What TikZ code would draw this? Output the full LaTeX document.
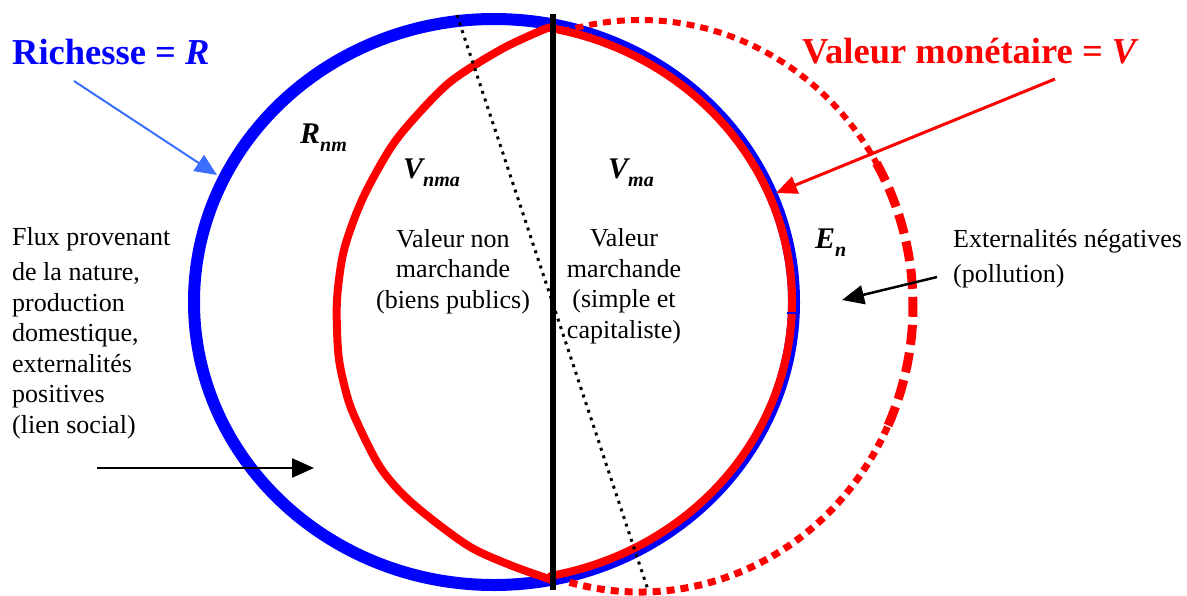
\documentclass[tikz,border=0pt]{standalone}
\usepackage{fontspec}
\setmainfont{Liberation Serif}
\usetikzlibrary{arrows.meta}
\definecolor{pblue}{RGB}{0,0,255}
\definecolor{pred}{RGB}{255,0,0}
\definecolor{arrblue}{RGB}{60,110,255}
\newcommand{\setfs}[2]{\fontsize{#1}{#2}\selectfont}
\newcommand{\subtxt}[1]{\raisebox{-8pt}{\setfs{20}{20}\bfseries\itshape #1}}
\begin{document}
\begin{tikzpicture}[x=1pt,y=-1pt,
  body/.style={inner sep=0pt, anchor=base, font=\setfs{26}{30.5}, align=center},
  sym/.style={inner sep=0pt, anchor=base west, font=\setfs{30}{30}\bfseries\itshape},
  title/.style={inner sep=0pt, anchor=base west, font=\setfs{36.5}{40}\bfseries},
  richring/.style={pblue, line width=12pt},
  valring/.style={pred, line width=8pt, line join=round, line cap=round},
  extring/.style={pred, dash pattern=on 8pt off 6pt},
  blackarrow/.style={black, line width=2.5pt, -{Triangle[length=22pt,width=19pt]}}
]
\useasboundingbox (0,0) rectangle (1187,595);

% Richesse circle
\draw[richring] (494,302) ellipse [x radius=300pt, y radius=283pt];

% Negative externalities dashed circle
\draw[extring, line width=6pt] ([shift={(106.6:273pt and 286pt)}]640,306) arc[start angle=106.6, end angle=30, x radius=273pt, y radius=286pt];
\draw[extring, line width=9pt, dash pattern=on 20pt off 8pt] ([shift={(30:273pt and 286pt)}]640,306) arc[start angle=30, end angle=-25, x radius=273pt, y radius=286pt];
\draw[extring, line width=7pt] ([shift={(-25:273pt and 286pt)}]640,306) arc[start angle=-25, end angle=-105, x radius=273pt, y radius=286pt];

% Valeur monetaire shape
\draw[valring] ([shift={(79:298pt and 279pt)}]494,302) arc[start angle=79, end angle=-79, x radius=298pt, y radius=279pt];
\draw[valring] plot[smooth, tension=0.5] coordinates {(552,27) (540,31) (500,50) (450,82) (410,123) (388,152) (362,200) (344,250) (337,300) (338,350) (343,380) (353,413) (380,467) (412,503) (467,545) (510,565) (552,580)};

% small blue tick
\draw[pblue, line width=1.5pt] (787,313) -- (798,313);

% dotted line
\draw[black, line width=3pt, dash pattern=on 3pt off 5pt] (457,15) -- (648,590);

% vertical line
\draw[black, line width=6pt] (553,14) -- (553,590);

% titles
\node[title, text=pblue] (rich) at (12,64) {Richesse = \textit{R}};
\node[title, text=pred] (val) at (802,63) {Valeur monétaire = \textit{V}};

% symbols
\node[sym] (rnm) at (300,143) {R\subtxt{nm}};
\node[sym] (vnma) at (403,178) {V\subtxt{nma}};
\node[sym] (vma) at (608,178) {V\subtxt{ma}};
\node[sym] (en) at (815,248) {E\subtxt{n}};

% body texts (anchored at baseline of last line)
\node[body] (nonmarch) at (453,308) {Valeur non\\marchande\\(biens publics)};
\node[body] (march) at (624,338) {Valeur\\marchande\\(simple et\\capitaliste)};
\node[body, anchor=base west, align=left] (flux) at (12,433) {Flux provenant\\[5pt]de la nature,\\production\\domestique,\\externalités\\positives\\(lien social)};
\node[body, anchor=base west, align=left] (extneg) at (953,282) {Externalités négatives\\[4pt](pollution)};

% arrows
\coordinate (richtail) at (74,81);
\coordinate (richtip) at (217,175);
\draw[arrblue, line width=2pt, -{Triangle[length=22pt,width=19pt]}] (richtail) -- (richtip);
\coordinate (valtail) at (1055,79);
\coordinate (valtip) at (776,193);
\draw[pred, line width=3pt, -{Triangle[length=21pt,width=18pt]}] (valtail) -- (valtip);
\coordinate (exttail) at (937,277);
\coordinate (exttip) at (842,300);
\draw[blackarrow] (exttail) -- (exttip);
\coordinate (fluxtail) at (97,468);
\coordinate (fluxtip) at (314,468);
\draw[blackarrow] (fluxtail) -- (fluxtip);
\end{tikzpicture}
\end{document}
